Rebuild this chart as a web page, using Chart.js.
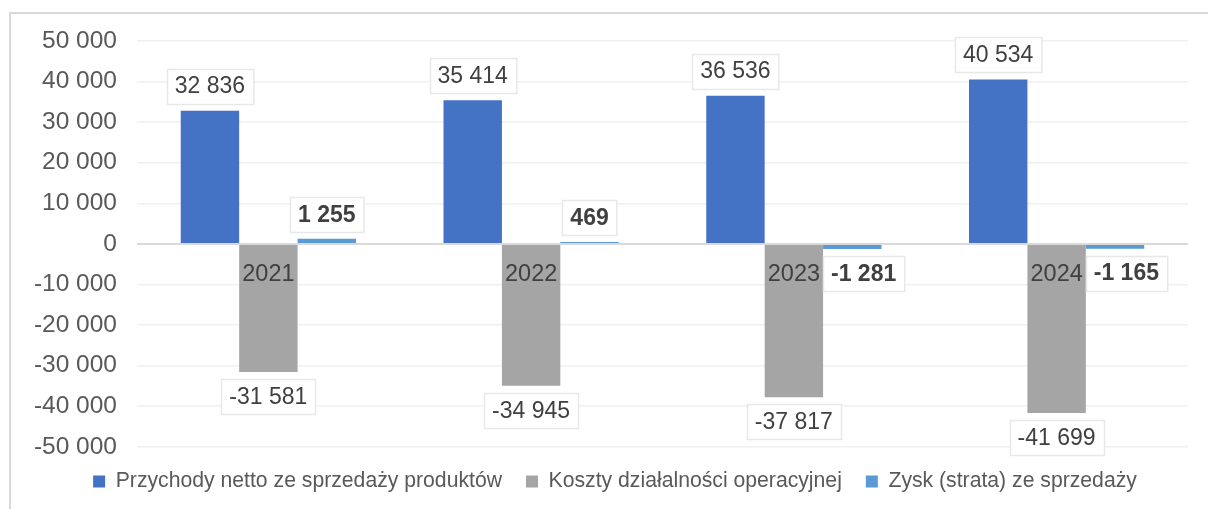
<!DOCTYPE html>
<html lang="pl">
<head>
<meta charset="utf-8">
<title>Przychody, koszty i zysk 2021–2024</title>
<script src="https://cdn.jsdelivr.net/npm/chart.js@4/dist/chart.umd.min.js"></script>
<style>
    html, body { margin: 0; padding: 0; background: #fff; }
    #wrap { position: relative; width: 1208px; height: 509px; overflow: hidden; }
    #frame {
        position: absolute; left: 9px; top: 12px; width: 1400px; height: 600px;
        border-top: 2px solid #d9d9d9; border-left: 2px solid #d9d9d9;
    }
    #chart { position: absolute; left: 0; top: 0; }
</style>
</head>
<body>
<div id="wrap">
    <div id="frame"></div>
    <canvas id="chart" width="1208" height="509"></canvas>
</div>
<script>
"use strict";

const YEARS = ["2021", "2022", "2023", "2024"];
const REVENUE = [32836, 35414, 36536, 40534];
const COSTS = [-31581, -34945, -37817, -41699];
const PROFIT = [1255, 469, -1281, -1165];
const SERIES_NAMES = [
    "Przychody netto ze sprzedaży produktów",
    "Koszty działalności operacyjnej",
    "Zysk (strata) ze sprzedaży"
];
const Y_MIN = -50000;
const Y_MAX = 50000;
const Y_STEP = 10000;

const FONT = '"Liberation Sans", Arial, sans-serif';
const COLORS = ["#4472c4", "#a5a5a5", "#5b9bd5"];
const BOLD = [false, false, true];
const CAT_FONT_SIZE = 23.5;

function fmtNum(n) {
    const s = String(Math.abs(Math.round(n))).replace(/\B(?=(\d{3})+(?!\d))/g, " ");
    return (n < 0 ? "-" : "") + s;
}

// boxed value labels above / below each bar; a label that would cover
// the year label next to the zero line is pushed to its right
const valueLabels = {
    id: "valueLabels",
    afterDraw(chart) {
        const ctx = chart.ctx;
        const xs = chart.scales.x;
        const zeroY = chart.scales.y.getPixelForValue(0);
        chart.data.datasets.forEach((ds, i) => {
            const meta = chart.getDatasetMeta(i);
            meta.data.forEach((bar, j) => {
                const v = ds.data[j];
                const txt = fmtNum(v);
                ctx.save();
                ctx.font = CAT_FONT_SIZE + "px " + FONT;
                const catHalf = ctx.measureText(chart.data.labels[j]).width / 2;
                const catX = xs.getPixelForValue(j);
                ctx.font = (BOLD[i] ? "bold " : "") + "23px " + FONT;
                const w = ctx.measureText(txt).width + 16;
                const h = 35;
                const gap = 7;
                const cy = v >= 0 ? bar.y - gap - h / 2 : bar.y + gap + h / 2;
                let cx = bar.x;
                if (v < 0 && cy - h / 2 < zeroY + 45 && cx - w / 2 < catX + catHalf + 3) {
                    cx = catX + catHalf + 3 + w / 2;
                }
                const x0 = Math.round(cx - w / 2) + 0.5;
                const y0 = Math.round(cy - h / 2) + 0.5;
                ctx.fillStyle = "#fff";
                ctx.fillRect(x0, y0, w, h);
                ctx.strokeStyle = "#e8e8e8";
                ctx.lineWidth = 1.5;
                ctx.strokeRect(x0, y0, w, h);
                ctx.fillStyle = "#404040";
                ctx.textAlign = "center";
                ctx.textBaseline = "middle";
                ctx.fillText(txt, cx, cy + 1);
                ctx.restore();
            });
        });
    }
};

// the legend sits a little right of the canvas centre in the original
const legendShift = {
    id: "legendShift",
    afterLayout(chart) {
        chart.legend.left += 16;
        chart.legend.right += 16;
    }
};

const datasets = [REVENUE, COSTS, PROFIT].map((data, i) => ({
    label: SERIES_NAMES[i],
    data,
    backgroundColor: COLORS[i],
    borderWidth: 0,
    barPercentage: 1,
    categoryPercentage: 0.667
}));

new Chart(document.getElementById("chart"), {
    type: "bar",
    data: { labels: YEARS, datasets },
    options: {
        responsive: false,
        devicePixelRatio: 1,
        animation: false,
        layout: { padding: { top: 41, left: 10, right: 20, bottom: 7 } },
        plugins: {
            tooltip: { enabled: false },
            legend: {
                position: "bottom",
                labels: {
                    boxWidth: 12,
                    boxHeight: 12,
                    padding: 24,
                    color: "#595959",
                    font: { family: FONT, size: 21.2 }
                }
            }
        },
        scales: {
            x: {
                position: { y: 0 },
                grid: { display: false, drawTicks: false },
                border: { display: false },
                ticks: { z: 1, color: "#404040", padding: 17, font: { family: FONT, size: CAT_FONT_SIZE } }
            },
            y: {
                min: Y_MIN,
                max: Y_MAX,
                afterFit: s => { s.width = 127; },
                grid: {
                    drawTicks: false,
                    color: c => (c.tick && c.tick.value === 0 ? "#d9d9d9" : "#f0f0f0"),
                    lineWidth: c => (c.tick && c.tick.value === 0 ? 2 : 1.5)
                },
                border: { display: false },
                ticks: {
                    stepSize: Y_STEP,
                    padding: 20,
                    color: "#595959",
                    font: { family: FONT, size: 24.5 },
                    callback: v => fmtNum(v)
                }
            }
        }
    },
    plugins: [valueLabels, legendShift]
});
</script>
</body>
</html>
